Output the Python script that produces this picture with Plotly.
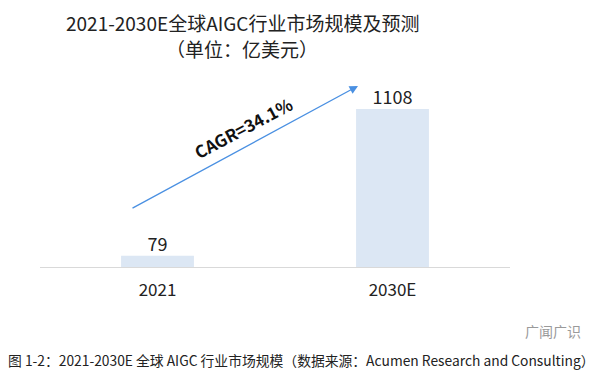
import plotly.graph_objects as go

categories = ["2021", "2030E"]
values = [79, 1108]
value_labels = ["79", "1108"]
title_line1 = "2021-2030E全球AIGC行业市场规模及预测"
title_line2 = "（单位：亿美元）"
cagr_text = "CAGR=34.1%"
caption = "图 1-2：2021-2030E 全球 AIGC 行业市场规模（数据来源：Acumen Research and Consulting）"
watermark = "广闻广识"

FONT = "Noto Sans CJK SC, Noto Sans, sans-serif"

# plot area in reference pixels: x 40..510, y 80..267
def px(x):
    return (x - 40) / 470.0

def py(y):
    return (267 - y) / 187.0

fig = go.Figure()
fig.add_trace(go.Bar(
    x=categories, y=values,
    marker=dict(color="#dce7f4", line=dict(width=0)),
    width=0.31, cliponaxis=False, hoverinfo="skip",
))
fig.add_trace(go.Scatter(
    x=categories, y=values, text=value_labels, mode="text",
    textposition="top center", cliponaxis=False, hoverinfo="skip",
    textfont=dict(size=18, color="#222222", family=FONT),
))

fig.update_layout(
    width=600, height=378,
    margin=dict(l=32, r=98, t=72, b=119, pad=0),
    paper_bgcolor="white", plot_bgcolor="white",
    showlegend=False,
    font=dict(family=FONT, color="#222222"),
    xaxis=dict(type="category", showgrid=False, showline=True, linecolor="#d9d9d9", linewidth=1,
               ticks="", tickfont=dict(size=17, color="#222222"), ticklabelstandoff=8),
    yaxis=dict(range=[0, 1311], visible=False, showgrid=False, zeroline=False),
)

annotations = [
    dict(text=title_line1, x=px(242), y=py(23), xref="paper", yref="paper",
         showarrow=False, font=dict(size=19, color="#222222"), xanchor="center", yanchor="middle"),
    dict(text=title_line2, x=px(242), y=py(48), xref="paper", yref="paper",
         showarrow=False, font=dict(size=19, color="#222222"), xanchor="center", yanchor="middle"),
    dict(text="", x=px(358), y=py(86), xref="paper", yref="paper",
         showarrow=True, ax=-227, ay=123, arrowhead=2, arrowsize=1.3, arrowwidth=1.3,
         arrowcolor="#4a90e2"),
    dict(text="<b>" + cagr_text + "</b>", x=px(243), y=py(127),
         xref="paper", yref="paper", showarrow=False, textangle=-28,
         font=dict(size=17, color="#111111"), xanchor="center", yanchor="middle"),
    dict(text=caption, x=px(301), y=py(360), xref="paper", yref="paper",
         showarrow=False, font=dict(size=13.8, color="#222222"), xanchor="center", yanchor="middle"),
    dict(text=watermark, x=px(553), y=py(331), xref="paper", yref="paper",
         showarrow=False, font=dict(size=14, color="#9a9a9a"), xanchor="center", yanchor="middle"),
]
fig.update_layout(annotations=annotations)

fig.write_html("out.html")
